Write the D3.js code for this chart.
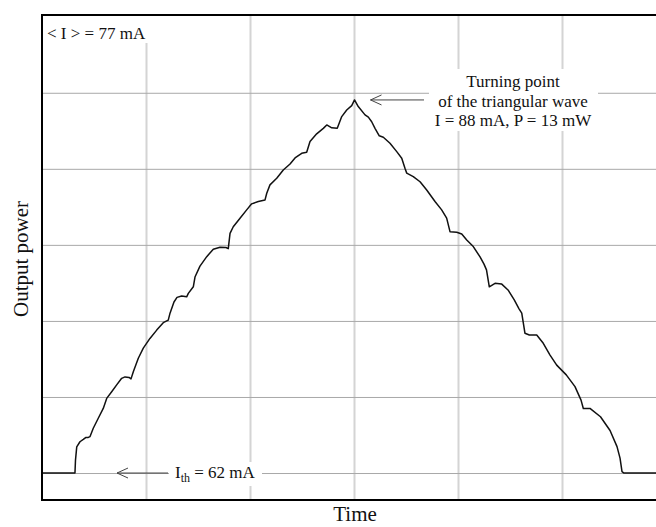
<!DOCTYPE html>
<html>
<head>
<meta charset="utf-8">
<script src="https://cdn.jsdelivr.net/npm/d3@7"></script>
<style>
  body { margin: 0; background: #fff; }
  text { font-family: "Liberation Serif", "DejaVu Serif", serif; fill: #111; }
</style>
</head>
<body>
<div id="chart"></div>
<script>
// trace: time in grid divisions, power in mW
const time = [
  0, 0.317, 0.322, 0.334, 0.365, 0.397, 0.423, 0.445, 0.462, 0.493,
  0.541, 0.589, 0.622, 0.670, 0.718, 0.766, 0.798, 0.837, 0.856, 0.878,
  0.926, 0.974, 1.038, 1.103, 1.166, 1.214, 1.231, 1.269, 1.298, 1.343,
  1.391, 1.407, 1.455, 1.471, 1.519, 1.584, 1.647, 1.712, 1.769, 1.791,
  1.808, 1.839, 1.904, 1.968, 2.016, 2.080, 2.144, 2.161, 2.192, 2.257,
  2.320, 2.385, 2.433, 2.497, 2.545, 2.577, 2.641, 2.705, 2.738, 2.786,
  2.839, 2.882, 2.930, 2.978, 3.005,
  3.041, 3.106, 3.138, 3.170, 3.202, 3.243, 3.282, 3.346, 3.411, 3.459,
  3.490, 3.507, 3.570, 3.635, 3.699, 3.779, 3.843, 3.891, 3.923, 3.988,
  4.036, 4.084, 4.147, 4.212, 4.250, 4.274, 4.301, 4.356, 4.418, 4.481,
  4.541, 4.587, 4.613, 4.644, 4.686, 4.757, 4.820, 4.885, 4.949, 5.041,
  5.125, 5.183, 5.205, 5.269, 5.370, 5.462, 5.529, 5.558, 5.577, 5.596, 6.0
];
const power = [
  0, 0, 0.45, 0.91, 1.09, 1.17, 1.24, 1.24, 1.27, 1.56,
  1.91, 2.25, 2.60, 2.83, 3.07, 3.30, 3.35, 3.33, 3.28, 3.53,
  4.00, 4.35, 4.69, 4.98, 5.24, 5.33, 5.57, 5.96, 6.12, 6.17,
  6.14, 6.26, 6.49, 6.83, 7.21, 7.54, 7.80, 7.87, 7.86, 7.82,
  8.35, 8.58, 8.88, 9.17, 9.38, 9.46, 9.51, 9.75, 10.04, 10.27,
  10.56, 10.77, 10.98, 11.14, 11.18, 11.55, 11.82, 12.01, 12.13, 12.03,
  12.01, 12.42, 12.65, 12.80, 13.00,
  12.77, 12.48, 12.40, 12.24, 12.01, 11.75, 11.70, 11.49, 11.20, 10.97,
  10.62, 10.45, 10.33, 10.15, 9.86, 9.46, 9.17, 8.88, 8.41, 8.39,
  8.33, 8.12, 7.89, 7.53, 7.28, 7.08, 6.49, 6.61, 6.59, 6.38,
  6.03, 5.72, 5.57, 4.87, 4.81, 4.81, 4.52, 4.11, 3.76, 3.42,
  3.01, 2.54, 2.25, 2.25, 1.96, 1.48, 0.92, 0.52, 0.05, 0, 0
];
const xTicks = [1, 2, 3, 4, 5];
const yTicks = [0, 2.65, 5.3, 7.95, 10.6, 13.25];

const peakIndex = power.indexOf(d3.max(power));
const thresholdIndex = 1;

const width = 656, height = 527;
const margin = { left: 42, top: 15, bottom: 500 };

const svg = d3.select("#chart")
  .append("svg")
  .attr("width", width)
  .attr("height", height);

svg.append("rect").attr("width", width).attr("height", height).attr("fill", "#fff");

const x = d3.scaleLinear().domain([0, 6]).range([margin.left, 666]);
const y = d3.scaleLinear().domain([-0.94, 15.96]).range([margin.bottom, margin.top]);

// grid
svg.append("g")
  .attr("transform", `translate(0,${margin.bottom})`)
  .call(d3.axisBottom(x).tickValues(xTicks).tickSize(-(margin.bottom - margin.top)).tickFormat(""))
  .call(g => g.select(".domain").remove())
  .call(g => g.selectAll(".tick line").attr("stroke", "#d4d4d4").attr("stroke-width", 2));

svg.append("g")
  .attr("transform", `translate(${margin.left},0)`)
  .call(d3.axisLeft(y).tickValues(yTicks).tickSize(-(width - margin.left)).tickFormat(""))
  .call(g => g.select(".domain").remove())
  .call(g => g.selectAll(".tick line").attr("stroke", "#a8a8a8").attr("stroke-width", 1));

// white patches behind the labels
svg.append("rect").attr("x", margin.left).attr("y", margin.top).attr("width", 108).attr("height", 28).attr("fill", "#fff");
svg.append("rect").attr("x", 429).attr("y", 69).attr("width", 169).attr("height", 62).attr("fill", "#fff");
svg.append("rect").attr("x", 169).attr("y", 462).attr("width", 93).attr("height", 24).attr("fill", "#fff");

// trace
const line = d3.line()
  .x((d, i) => x(time[i]))
  .y(d => y(d));

svg.append("path")
  .datum(power)
  .attr("fill", "none")
  .attr("stroke", "#111")
  .attr("stroke-width", 1.5)
  .attr("stroke-linejoin", "round")
  .attr("d", line);

// frame
svg.append("path")
  .attr("d", `M${width},${margin.top}H${margin.left}V${margin.bottom}H${width}`)
  .attr("fill", "none")
  .attr("stroke", "#000")
  .attr("stroke-width", 2);

// arrows
function arrow(x1, x2, yy) {
  svg.append("line")
    .attr("x1", x1).attr("x2", x2).attr("y1", yy).attr("y2", yy)
    .attr("stroke", "#444").attr("stroke-width", 1);
  svg.append("path")
    .attr("d", `M${x2 + 11},${yy - 5}L${x2},${yy}L${x2 + 11},${yy + 5}`)
    .attr("fill", "none").attr("stroke", "#444").attr("stroke-width", 1);
}
arrow(424, x(time[peakIndex]) + 16, y(power[peakIndex]));
arrow(168, 117, y(power[thresholdIndex]));

// labels
svg.append("text").attr("x", 47).attr("y", 39).attr("font-size", 17).text("< I > = 77 mA");

const note = svg.append("text").attr("text-anchor", "middle").attr("font-size", 17);
note.append("tspan").attr("x", 513).attr("y", 87).text("Turning point");
note.append("tspan").attr("x", 513).attr("y", 107).text("of the triangular wave");
note.append("tspan").attr("x", 513).attr("y", 126).text("I = 88 mA, P = 13 mW");

const ith = svg.append("text").attr("x", 175).attr("y", 478).attr("font-size", 17);
ith.append("tspan").text("I");
ith.append("tspan").attr("font-size", 12).attr("dy", 4).text("th");
ith.append("tspan").attr("dy", -4).text(" = 62 mA");

svg.append("text")
  .attr("x", 355).attr("y", 521)
  .attr("text-anchor", "middle")
  .attr("font-size", 21)
  .text("Time");

svg.append("text")
  .attr("transform", "translate(28,259) rotate(-90)")
  .attr("text-anchor", "middle")
  .attr("font-size", 21)
  .text("Output power");
</script>
</body>
</html>
